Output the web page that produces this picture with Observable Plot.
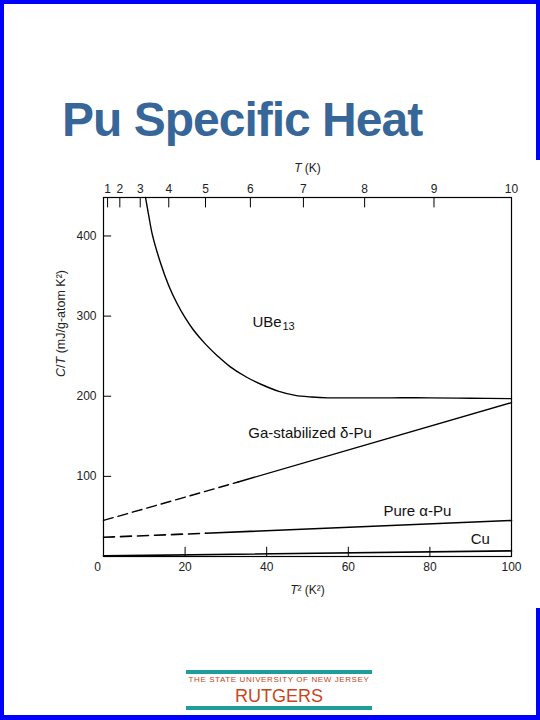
<!DOCTYPE html>
<html>
<head>
<meta charset="utf-8">
<script src="https://cdn.jsdelivr.net/npm/d3@7"></script>
<script src="https://cdn.jsdelivr.net/npm/@observablehq/plot@0.6"></script>
<style>
  html, body { margin: 0; padding: 0; background: #fff; }
  #page { position: relative; width: 540px; height: 720px; overflow: hidden; background: #fff; font-family: "Liberation Sans", Arial, sans-serif; }
  .bar { position: absolute; background: #0000ff; }
  #title { position: absolute; left: 62px; top: 96px; font-size: 48px; line-height: 48px; font-weight: bold; color: #376699; letter-spacing: -1px; white-space: nowrap; }
  #chart { position: absolute; left: 0; top: 150px; }
  .teal { position: absolute; left: 186px; width: 186px; height: 3.5px; background: #1f9c9c; }
  #univ { position: absolute; left: 186px; width: 186px; top: 675px; text-align: center; font-size: 8px; letter-spacing: 0.6px; color: #c2461e; line-height: 10px; white-space: nowrap; }
  #rutgers { position: absolute; left: 186px; width: 186px; top: 686px; text-align: center; font-size: 18px; line-height: 20px; color: #c8461e; }
</style>
</head>
<body>
<div id="page">
  <div class="bar" style="left:0;top:0;width:540px;height:4px"></div>
  <div class="bar" style="left:0;top:0;width:4px;height:720px"></div>
  <div class="bar" style="left:0;top:715px;width:540px;height:5px"></div>
  <div class="bar" style="left:536px;top:0;width:4px;height:160px"></div>
  <div class="bar" style="left:536px;top:608px;width:4px;height:112px"></div>
  <div id="title">Pu Specific Heat</div>
  <div id="chart"></div>
  <div class="teal" style="top:670px"></div>
  <div id="univ">THE STATE UNIVERSITY OF NEW JERSEY</div>
  <div id="rutgers">RUTGERS</div>
  <div class="teal" style="top:706px"></div>
</div>
<script>
// ---- data ----
const xTicks = [0, 20, 40, 60, 80, 100];          // T^2 (K^2)
const yTicks = [0, 100, 200, 300, 400];           // C/T
const topTicksT = [1, 2, 3, 4, 5, 6, 7, 8, 9, 10]; // T (K)

const ubeT2 = [10.3, 11, 12, 14, 16, 18, 20, 22, 25, 28, 31, 35, 39, 43, 47, 51, 55, 60, 70, 80, 90, 100];
const ubeCT = [448, 428, 401, 366, 338, 316, 298, 283, 265, 250, 237, 224, 214, 206, 201, 199, 198, 198, 198, 198, 197.5, 197];

const deltaDashT2 = [0, 33];
const deltaDashCT = [45, 93];
const deltaSolidT2 = [33, 100];
const deltaSolidCT = [93, 192];

const alphaDashT2 = [0, 25];
const alphaDashCT = [24, 29];
const alphaSolidT2 = [25, 100];
const alphaSolidCT = [29, 45];

const cuT2 = [0, 100];
const cuCT = [0.8, 7];

const seriesLabels = [
  {x: 36.5, y: 292, text: "UBe"},
  {x: 35.5, y: 154, text: "Ga-stabilized δ-Pu"},
  {x: 68.6, y: 56, text: "Pure α-Pu"},
  {x: 90, y: 21, text: "Cu"}
];

const toPts = (xs, ys) => xs.map((x, i) => ({x, y: ys[i]}));

const yMax = 448;

const chart = Plot.plot({
  width: 540,
  height: 450,
  marginTop: 47,
  marginBottom: 44,
  marginLeft: 103,
  marginRight: 29,
  style: {fontFamily: "'Liberation Sans', Arial, sans-serif", fontSize: "12px", color: "#222", background: "transparent"},
  x: {domain: [0, 100]},
  y: {domain: [0, yMax]},
  marks: [
    // inner ticks
    Plot.ruleX(xTicks.filter(d => d > 0 && d < 100), {x: d => d, y1: 0, y2: 11.5, stroke: "#000", strokeWidth: 1}),
    Plot.ruleX(topTicksT.filter(t => t < 10).map(t => t * t), {x: d => d, y1: yMax, y2: yMax - 13, stroke: "#000", strokeWidth: 1}),
    Plot.ruleY(yTicks.filter(d => d > 0), {y: d => d, x1: 0, x2: 2, stroke: "#000", strokeWidth: 1}),
    // axes labels
    Plot.axisX(xTicks.filter(d => d > 0), {anchor: "bottom", tickSize: 0, tickPadding: 6, label: null, fontSize: 12}),
    Plot.axisY(yTicks.filter(d => d > 0), {anchor: "left", tickSize: 0, tickPadding: 7, label: null, fontSize: 12}),
    Plot.axisX(topTicksT.map(t => t * t), {anchor: "top", tickSize: 0, tickPadding: 5, label: null, fontSize: 12, tickFormat: d => String(Math.round(Math.sqrt(d)))}),
    Plot.text([0], {x: 0, y: 0, text: () => "0", dx: -6, dy: 11, fontSize: 12, fill: "#222"}),
    Plot.text(["T (K)"], {frameAnchor: "top", text: d => d, dy: -34, fontSize: 12, fill: "#222"}),
    Plot.text(["T² (K²)"], {frameAnchor: "bottom", text: d => d, dy: 37, fontSize: 12, fill: "#222"}),
    Plot.text(["C/T (mJ/g-atom K²)"], {frameAnchor: "left", text: d => d, dx: -43, rotate: -90, fontSize: 12.5, fill: "#222"}),
    // curves
    Plot.line(toPts(ubeT2, ubeCT), {x: "x", y: "y", stroke: "#000", strokeWidth: 1.4, curve: "catmull-rom"}),
    Plot.line(toPts(deltaDashT2, deltaDashCT), {x: "x", y: "y", stroke: "#000", strokeWidth: 1.4, strokeDasharray: "10,5"}),
    Plot.line(toPts(deltaSolidT2, deltaSolidCT), {x: "x", y: "y", stroke: "#000", strokeWidth: 1.4}),
    Plot.line(toPts(alphaDashT2, alphaDashCT), {x: "x", y: "y", stroke: "#000", strokeWidth: 1.6, strokeDasharray: "11,6"}),
    Plot.line(toPts(alphaSolidT2, alphaSolidCT), {x: "x", y: "y", stroke: "#000", strokeWidth: 1.6}),
    Plot.line(toPts(cuT2, cuCT), {x: "x", y: "y", stroke: "#000", strokeWidth: 1.6}),
    // series labels
    Plot.text(seriesLabels, {x: "x", y: "y", text: "text", textAnchor: "start", fontSize: 15, fill: "#111"}),
    Plot.text([seriesLabels[0]], {x: "x", y: "y", text: () => "13", textAnchor: "start", dx: 30, dy: 4, fontSize: 11, fill: "#111"}),
    Plot.frame({stroke: "#000", strokeWidth: 1.2})
  ]
});

// italicize the variable letters in axis titles
d3.select(chart).selectAll("text").each(function() {
  const t = this.textContent;
  const parts = {
    "T (K)": [["T", true], [" (K)", false]],
    "T² (K²)": [["T", true], ["² (K²)", false]],
    "C/T (mJ/g-atom K²)": [["C", true], ["/", false], ["T", true], [" (mJ/g-atom K²)", false]]
  }[t];
  if (!parts) return;
  const el = d3.select(this);
  el.text(null);
  for (const [s, it] of parts) el.append("tspan").attr("font-style", it ? "italic" : null).text(s);
});

document.getElementById("chart").appendChild(chart);
</script>
</body>
</html>
